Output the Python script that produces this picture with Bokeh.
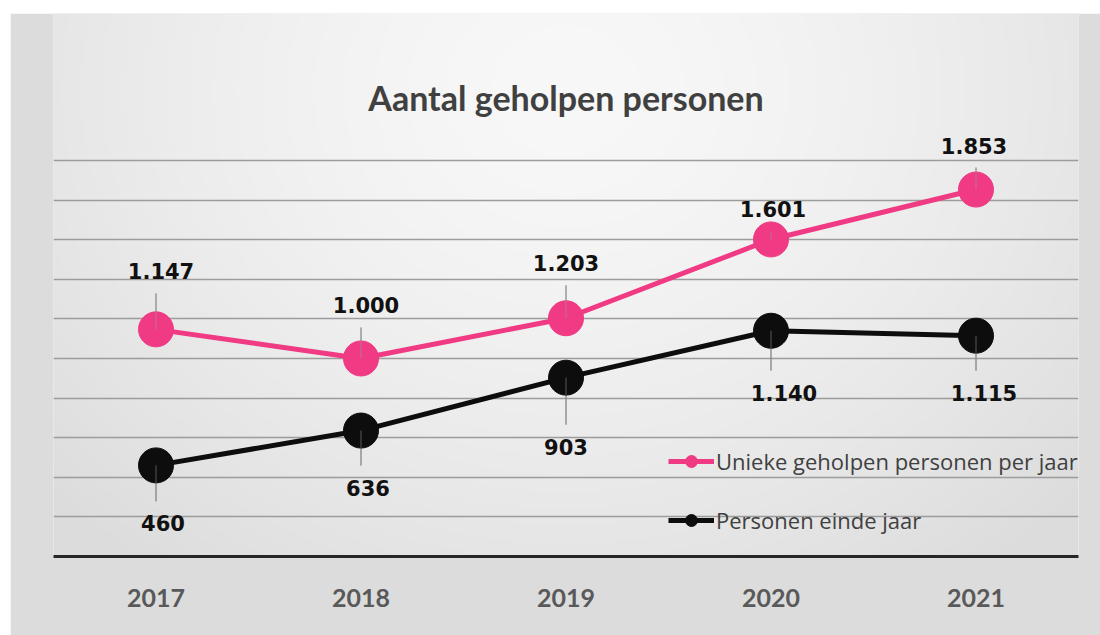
import numpy as np
from bokeh.plotting import figure
from bokeh.models import (ColumnDataSource, Range1d, FixedTicker, Grid, Legend, LegendItem)
from bokeh.core.properties import value
from bokeh.embed import file_html
from bokeh.resources import INLINE

# ---- data ----
years = ["2017", "2018", "2019", "2020", "2021"]
unieke = [1147, 1000, 1203, 1601, 1853]
einde = [460, 636, 903, 1140, 1115]
title_text = "Aantal geholpen personen"
series_names = ["Unieke geholpen personen per jaar", "Personen einde jaar"]
grid_ticks = [200, 400, 600, 800, 1000, 1200, 1400, 1600, 1800, 2000]

# ---- style ----
PINK = "#f03a84"
BLACK = "#0d0d0d"
ML, MT = 10, 13
W, H = 1100 - ML, 635 - MT
BL, BR, BT, BB = 43, 22, 0, 79
FW, FH = W - BL - BR, H - BT - BB
YMAX = 2742
px_per_unit = FH / YMAX

# label offsets (px): pink above, black below
pink_dx = [5, 5, 0, 2, -2]
pink_dy = [58, 53, 55, 30, 44]
black_dx = [7, 7, 0, 13, 8]
black_dy = [58, 57, 69, 62, 57]

def fmt(v):
    return f"{v:,}".replace(",", ".")

xs = list(range(len(years)))

p = figure(width=W, height=H, output_backend="svg", toolbar_location=None,
           x_range=Range1d(-0.5, len(years) - 0.5), y_range=Range1d(0, YMAX),
           y_axis_location=None, min_border_left=BL, min_border_right=BR,
           min_border_top=BT, min_border_bottom=BB)
p.margin = (MT, 0, 0, ML)
p.outline_line_color = None
p.border_fill_color = "#dcdcdc"
p.background_fill_color = "#e8e8e8"
p.xgrid.visible = False
p.ygrid.visible = False

# background gradient
nx, ny = 300, 160
gx = np.linspace(0, 1, nx)
gy = np.linspace(0, 1, ny)  # 0 = bottom
GX, GY = np.meshgrid(gx, gy)
d = np.sqrt(((GX - 0.5) / 0.55) ** 2 + ((GY - 0.86) / 0.9) ** 2)
val = np.clip(248 - 20 * d ** 1.5, 220, 248)
img = np.zeros((ny, nx), dtype=np.uint32)
view = img.view(dtype=np.uint8).reshape((ny, nx, 4))
view[:, :, 0] = val.astype(np.uint8)
view[:, :, 1] = val.astype(np.uint8)
view[:, :, 2] = val.astype(np.uint8)
view[:, :, 3] = 255
bg = p.image_rgba(image=[img], x=-0.5, y=0, dw=len(years), dh=YMAX)
bg.level = "image"

grid = Grid(dimension=1, ticker=FixedTicker(ticks=grid_ticks),
            grid_line_color="#9c9c9c", grid_line_width=1.5)
p.add_layout(grid)

# x axis
p.xaxis.ticker = FixedTicker(ticks=xs)
p.xaxis.major_label_overrides = {i: y for i, y in enumerate(years)}
p.xaxis.axis_line_color = "#262626"
p.xaxis.axis_line_width = 3
p.xaxis.major_tick_line_color = None
p.xaxis.minor_tick_line_color = None
p.xaxis.major_label_standoff = 26
p.xaxis.major_label_text_font = "Lato"
p.xaxis.major_label_text_font_style = "bold"
p.xaxis.major_label_text_font_size = "25px"
p.xaxis.major_label_text_color = "#595959"

# title as text in frame
p.text(x=[(len(years) - 1) / 2], y=[YMAX], text=[title_text], text_align="center",
       text_baseline="middle", y_offset=84,
       text_font=value("Lato"), text_font_style="bold", text_font_size="34px",
       text_color="#404040")

GAP = 22
src_p = ColumnDataSource(dict(x=xs, y=unieke, lab=[fmt(v) for v in unieke],
                              dx=pink_dx, dy=[-d_ for d_ in pink_dy],
                              ly=[v + (d_ - GAP) / px_per_unit for v, d_ in zip(unieke, pink_dy)]))
src_b = ColumnDataSource(dict(x=xs, y=einde, lab=[fmt(v) for v in einde],
                              dx=black_dx, dy=black_dy,
                              ly=[v - (d_ - GAP) / px_per_unit for v, d_ in zip(einde, black_dy)]))

# leader lines
p.segment(x0="x", y0="y", x1="x", y1="ly", source=src_p, line_color="#7f7f7f", line_width=1)
p.segment(x0="x", y0="y", x1="x", y1="ly", source=src_b, line_color="#7f7f7f", line_width=1)

# lines and markers
pl = p.line("x", "y", source=src_p, line_color=PINK, line_width=5)
ps = p.scatter("x", "y", source=src_p, size=35, fill_color=PINK, line_color=PINK)
bl = p.line("x", "y", source=src_b, line_color=BLACK, line_width=5)
bs = p.scatter("x", "y", source=src_b, size=35, fill_color=BLACK, line_color=BLACK)

# faint leader lines on top of markers
p.segment(x0="x", y0="y", x1="x", y1="ly", source=src_p, line_color="#9a9a9a", line_width=1, line_alpha=0.6)
p.segment(x0="x", y0="y", x1="x", y1="ly", source=src_b, line_color="#8a8a8a", line_width=1, line_alpha=0.6)

# data labels
for src in (src_p, src_b):
    p.text(x="x", y="y", text="lab", source=src, x_offset="dx", y_offset="dy",
           text_align="center", text_baseline="middle",
           text_font=value("DejaVu Sans"), text_font_style="bold",
           text_font_size="21px", text_color="#111111")

legend = Legend(items=[LegendItem(label=series_names[0], renderers=[pl, ps]),
                       LegendItem(label=series_names[1], renderers=[bl, bs])],
                location=(615, 21), orientation="vertical")
legend.background_fill_alpha = 0
legend.border_line_color = None
legend.glyph_width = 46
legend.glyph_height = 30
legend.label_height = 30
legend.spacing = 29
legend.padding = 0
legend.margin = 0
legend.label_standoff = 2
legend.label_text_font = "Open Sans"
legend.label_text_font_size = "22px"
legend.label_text_color = "#404040"
legend.label_text_baseline = "middle"
p.add_layout(legend, "center")

open("out.html", "w").write(file_html(p, INLINE))
